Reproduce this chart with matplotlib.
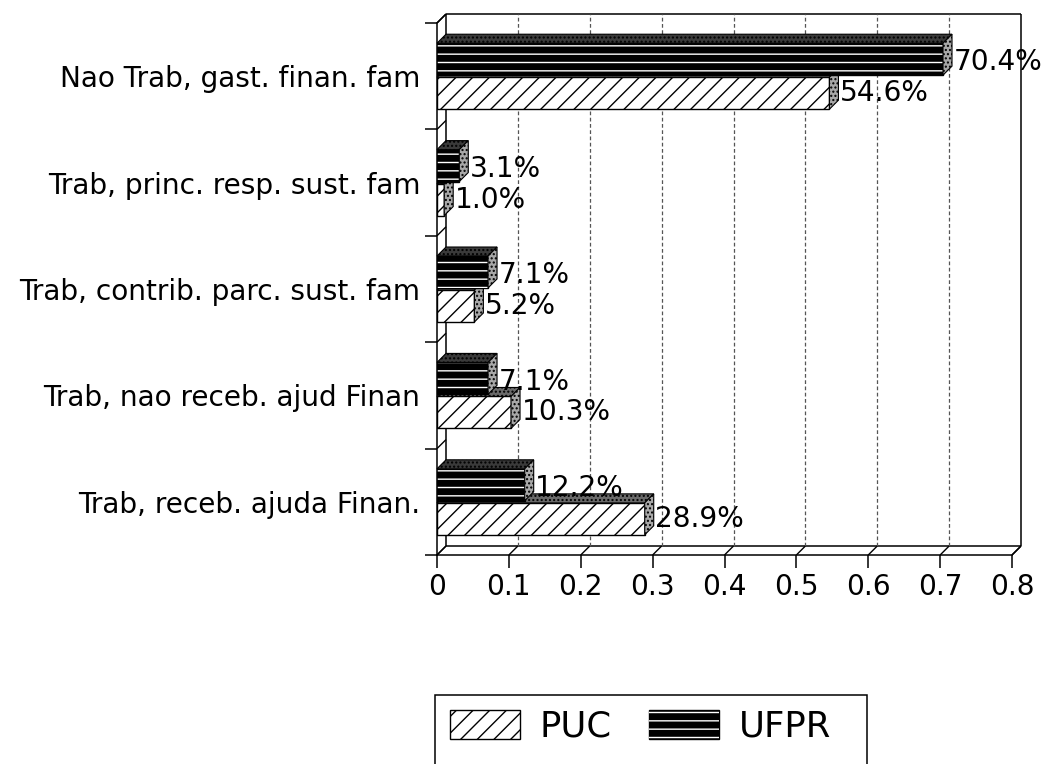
import matplotlib

matplotlib.use("Agg")
import matplotlib.pyplot as plt
from matplotlib.patches import Patch, Polygon, Rectangle

# Data, bottom category first
categories = [
    "Trab, receb. ajuda Finan.",
    "Trab, nao receb. ajud Finan",
    "Trab, contrib. parc. sust. fam",
    "Trab, princ. resp. sust. fam",
    "Nao Trab, gast. finan. fam",
]
puc = [0.289, 0.103, 0.052, 0.010, 0.546]
ufpr = [0.122, 0.071, 0.071, 0.031, 0.704]
puc_labels = ["28.9%", "10.3%", "5.2%", "1.0%", "54.6%"]
ufpr_labels = ["12.2%", "7.1%", "7.1%", "3.1%", "70.4%"]
x_ticks = [0, 0.1, 0.2, 0.3, 0.4, 0.5, 0.6, 0.7, 0.8]
x_tick_labels = ["0", "0.1", "0.2", "0.3", "0.4", "0.5", "0.6", "0.7", "0.8"]

# the scanned original uses a wide sans; DejaVu Sans matches its proportions
plt.rcParams["font.family"] = ["DejaVu Sans"]
FS = 20.2
LEG_FS = 25.5
INK = "black"

# front plane of the box, in figure pixels
W, H = 1048, 764
AX_L, AX_R, AX_T, AX_B = 437, 1012, 23, 555
XMAX = 0.8
YLO, YHI = -0.5, 4.5
# depth offset of the pseudo 3D box, converted to data units
DX = XMAX * 9 / (AX_R - AX_L)
DY = (YHI - YLO) * 9 / (AX_B - AX_T)
BH = 0.30
OFF = 0.16

fig = plt.figure(figsize=(W / 100, H / 100), dpi=100)
ax = fig.add_axes([AX_L / W, (H - AX_B) / H, (AX_R - AX_L) / W, (AX_B - AX_T) / H])
ax.set_xlim(0, XMAX)
ax.set_ylim(YLO, YHI)


def line(xs, ys, **kw):
    kw.setdefault("color", INK)
    kw.setdefault("lw", 1.1)
    ax.plot(xs, ys, clip_on=False, solid_capstyle="butt", **kw)


# back wall, floor and left wall
top, bot = YHI + DY, YLO + DY
line([DX, XMAX + DX], [top, top], zorder=1)
line([XMAX + DX, XMAX + DX], [bot, top], zorder=1)
line([DX, XMAX + DX], [bot, bot], zorder=1)
line([DX, DX], [bot, top], zorder=1)
line([0, DX], [YHI, top], zorder=1)
line([XMAX, XMAX + DX], [YLO, bot], zorder=1)
for t in x_ticks[1:-1]:
    line([t + DX, t + DX], [bot, top], lw=0.9, color="#555555",
         ls=(0, (3, 2)), zorder=1)
for t in x_ticks:
    line([t, t + DX], [YLO, bot], lw=1.0, zorder=1)
for k in range(len(categories) + 1):
    b = YLO + k
    line([0, DX], [b, b + DY], lw=1.0, zorder=1)


def faces(y0, v, top_color, z):
    y1 = y0 + BH
    topf = Polygon([(0, y1), (v, y1), (v + DX, y1 + DY), (DX, y1 + DY)],
                   closed=True, facecolor=top_color, edgecolor=INK, hatch="....",
                   lw=0.8, zorder=z, clip_on=False)
    side = Polygon([(v, y0), (v, y1), (v + DX, y1 + DY), (v + DX, y0 + DY)],
                   closed=True, facecolor="#a8a8a8", edgecolor=INK, hatch="....",
                   lw=0.8, zorder=z, clip_on=False)
    ax.add_patch(topf)
    ax.add_patch(side)


for i, cat in enumerate(categories):
    zp = 3 + 2 * (len(categories) - i)
    # PUC: white with diagonal hatch
    yp = i - OFF - BH / 2
    ax.barh(i - OFF, puc[i], height=BH, color="white", edgecolor=INK, hatch="//",
            lw=1.0, zorder=zp)
    faces(yp, puc[i], "#6a6a6a", zp)
    ax.text(puc[i] + DX + 0.002, i - OFF, puc_labels[i], fontsize=FS, color=INK,
            ha="left", va="center", zorder=20)
    # UFPR: black with white horizontal lines
    yu = i + OFF - BH / 2
    zu = zp + 1
    ax.barh(i + OFF, ufpr[i], height=BH, color=INK, edgecolor=INK, lw=1.0, zorder=zu)
    ax.barh(i + OFF, ufpr[i], height=BH, fill=False, edgecolor="white", hatch="--",
            lw=0, zorder=zu)
    faces(yu, ufpr[i], "#3a3a3a", zu)
    ax.text(ufpr[i] + DX + 0.002, i + OFF - 0.03, ufpr_labels[i], fontsize=FS,
            color=INK, ha="left", va="center", zorder=20)

ax.set_yticks(range(len(categories)))
ax.set_yticklabels(categories, fontsize=FS)
ax.set_yticks([YLO + k for k in range(len(categories) + 1)], minor=True)
ax.tick_params(axis="y", which="major", length=0, pad=12)
ax.tick_params(axis="y", which="minor", length=9, width=1.1)
ax.set_xticks(x_ticks)
ax.set_xticklabels(x_tick_labels, fontsize=FS)
ax.tick_params(axis="x", length=9, width=1.1, pad=4)

for s in ("top", "right"):
    ax.spines[s].set_visible(False)
for s in ("left", "bottom"):
    ax.spines[s].set_linewidth(1.1)
    ax.spines[s].set_zorder(30)
ax.set_facecolor("none")

# legend box runs off the bottom edge of the figure, as in the original
fig.patches.append(Rectangle((435 / W, -0.02), (867 - 435) / W, 0.02 + (H - 695) / H,
                             transform=fig.transFigure, facecolor="white",
                             edgecolor=INK, lw=1.1, zorder=0))
handles = [
    Patch(facecolor="white", edgecolor=INK, hatch="//", label="PUC"),
    (Patch(facecolor=INK, edgecolor=INK),
     Patch(facecolor="none", edgecolor="white", hatch="--", lw=0)),
]
fig.legend(handles, ["PUC", "UFPR"], loc="upper left",
           bbox_to_anchor=(435 / W, 1 - 695 / H), borderaxespad=0, ncol=2,
           fontsize=LEG_FS, frameon=False, borderpad=0.42, handlelength=1.98,
           handleheight=0.85, handletextpad=0.56, columnspacing=1.05)

fig.savefig("out.png", dpi=100)
